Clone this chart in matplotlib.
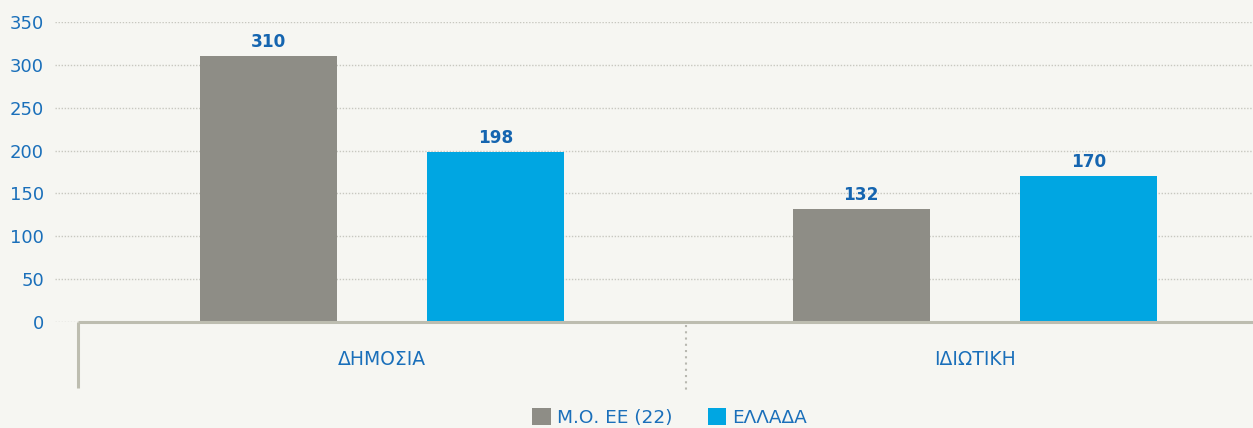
import matplotlib.pyplot as plt
from matplotlib.patches import Patch

plt.rcParams['font.family'] = ['DejaVu Sans']

categories = ["ΔΗΜΟΣΙΑ", "ΙΔΙΩΤΙΚΗ"]
series_names = ["Μ.Ο. ΕΕ (22)", "ΕΛΛΑΔΑ"]
eu_avg = [310, 132]
greece = [198, 170]
yticks = [0, 50, 100, 150, 200, 250, 300, 350]

GRAY = "#8e8d86"
BLUE = "#00a6e2"
TXT = "#1a6fba"
LBL = "#1565b0"
BG = "#f6f6f2"
AXC = "#bdbdb0"

fig = plt.figure(figsize=(12.53, 4.28), dpi=100, facecolor=BG)
ax = fig.add_axes([0.0439, 0.2477, 0.9561, 0.7009])
ax.set_facecolor(BG)

x = list(range(len(categories)))
w = 0.231
off = 0.1915
b1 = ax.bar([i - off for i in x], eu_avg, w, color=GRAY, zorder=3)
b2 = ax.bar([i + off for i in x], greece, w, color=BLUE, zorder=3)

for bars, vals in ((b1, eu_avg), (b2, greece)):
    for b, v in zip(bars, vals):
        ax.text(b.get_x() + b.get_width() / 2, v + 6, str(v), ha="center",
                va="bottom", fontsize=12.2, fontweight="bold", color=LBL)

ax.set_xlim(-0.551, 1.469)
ax.set_ylim(0, 350)
ax.set_yticks(yticks)
ax.tick_params(axis="y", length=0, labelsize=13, labelcolor=TXT, pad=8)
ax.set_xticks([])
ax.yaxis.grid(True, linestyle=(0, (1, 1.2)), color="#c8c8c0", linewidth=1, zorder=0)
for s in ax.spines.values():
    s.set_visible(False)

# custom axis lines
left = -0.513
ax.plot([left, 1.469], [0, 0], color=AXC, linewidth=2.2, zorder=4, clip_on=False,
        solid_capstyle="butt")
ax.plot([left, left], [0, -77], color=AXC, linewidth=2.2, zorder=4, clip_on=False,
        solid_capstyle="butt")
ax.plot([0.513, 0.513], [-3, -80], color="#b8b8b0", linewidth=1.5,
        linestyle=(0, (1, 2)), clip_on=False)

for i, c in enumerate(categories):
    ax.text(i, -44, c, ha="center", va="center", fontsize=13.5, color=TXT)

handles = [Patch(facecolor=GRAY), Patch(facecolor=BLUE)]
fig.legend(handles, series_names, loc="center", bbox_to_anchor=(0.5345, 0.025),
           ncol=2, frameon=False, fontsize=13.3, labelcolor=TXT,
           handlelength=1.0, handleheight=1.0, handletextpad=0.35, columnspacing=1.9)

fig.savefig("out.png", dpi=100, facecolor=BG)
